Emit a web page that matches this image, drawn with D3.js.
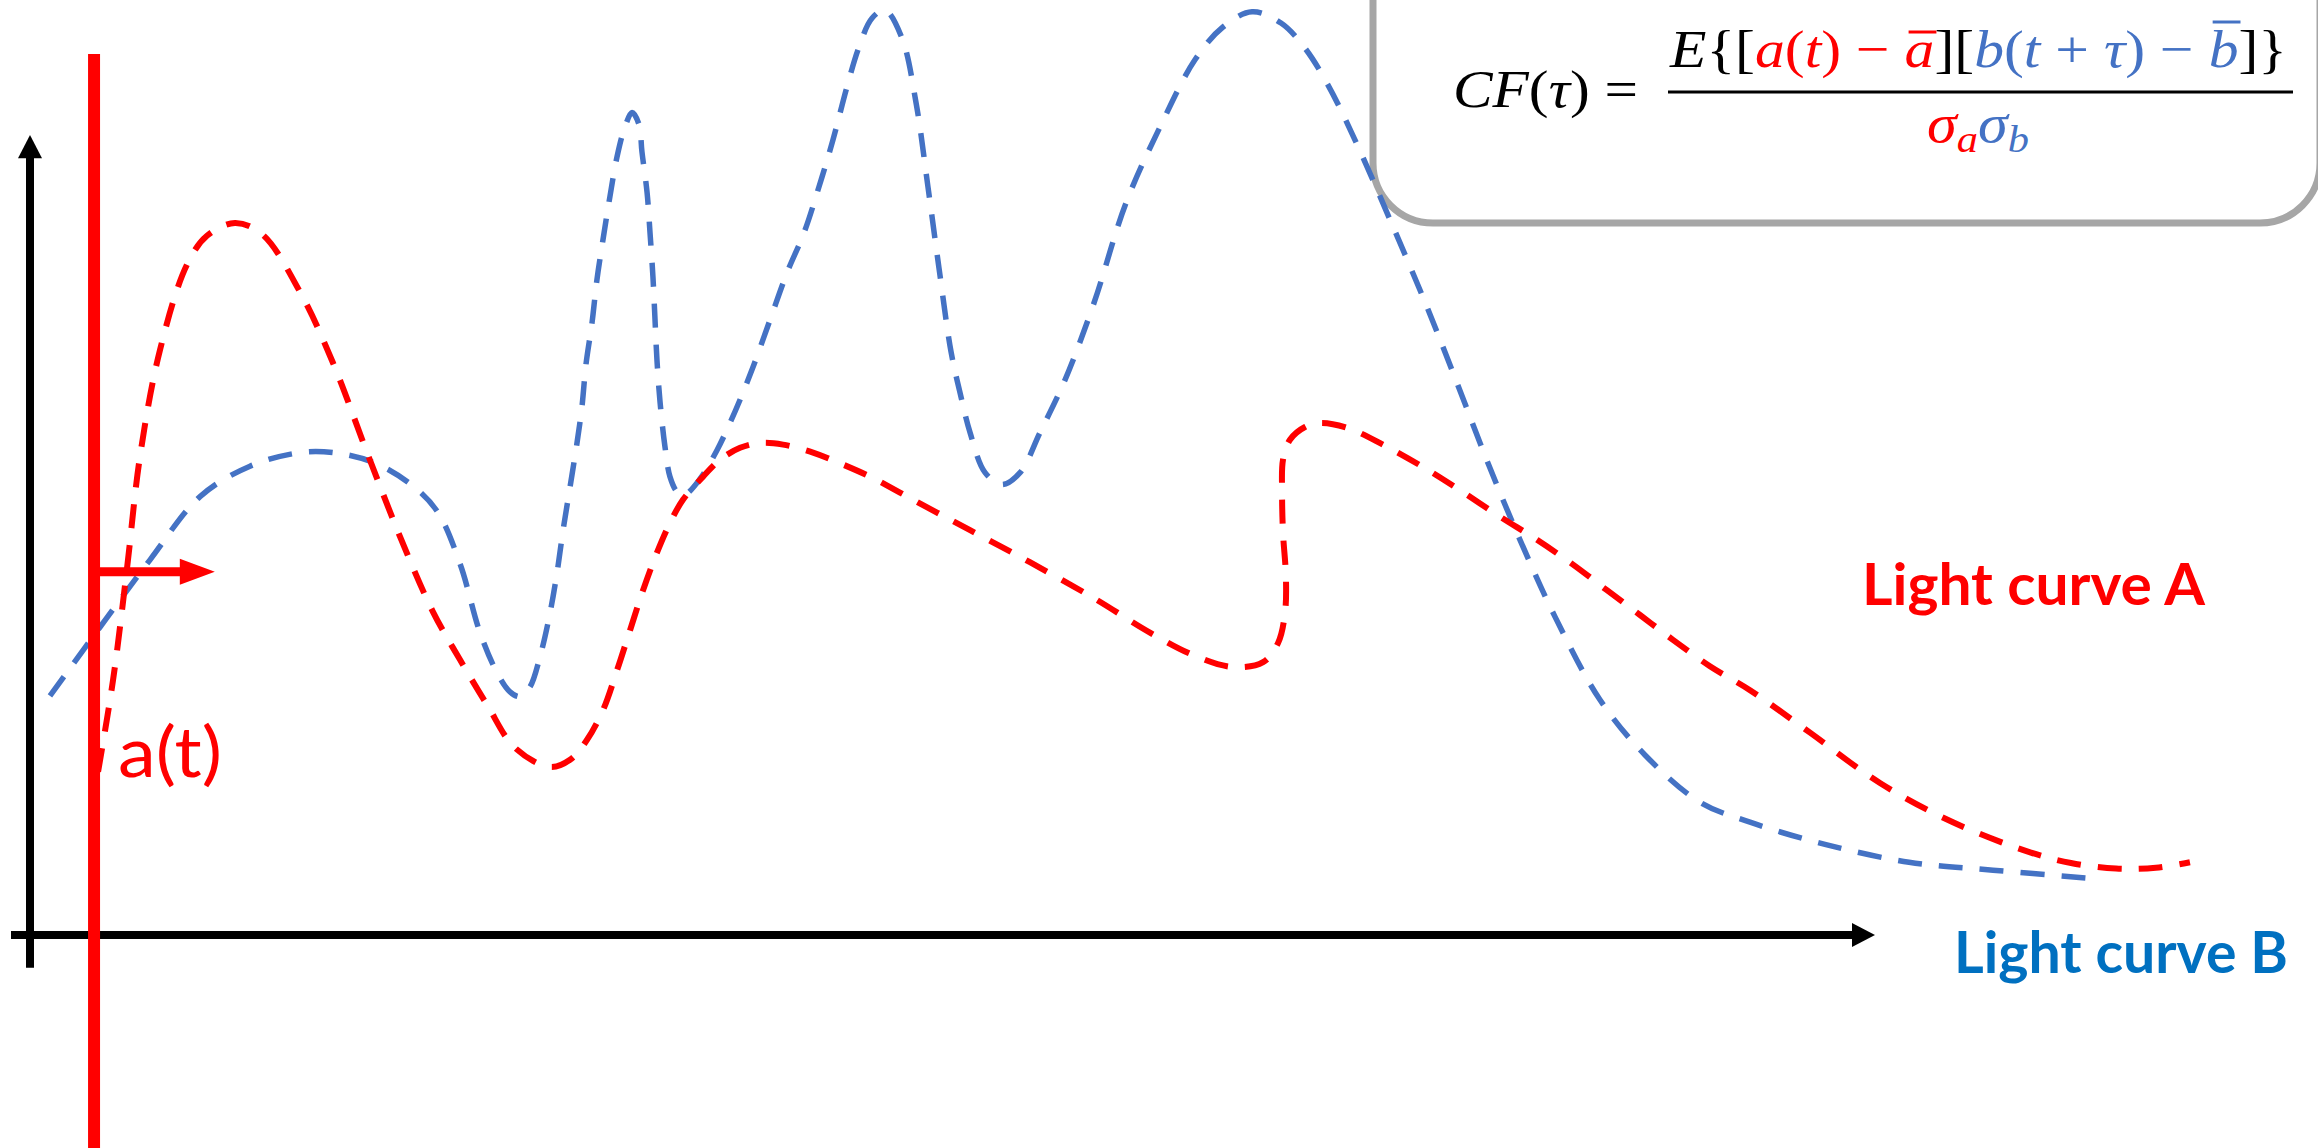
<!DOCTYPE html>
<html><head><meta charset="utf-8">
<script src="https://cdn.jsdelivr.net/npm/d3@7"></script>
<style>html,body{margin:0;padding:0;background:#fff;overflow:hidden}</style>
</head><body>
<svg id="chart" width="2318" height="1148"></svg>
<script>
// ---------- data (time units 0..100 along the x axis, flux units 0..100 up the y axis) ----------
const curveATime = [3.72,4.54,5.30,6.01,7.10,8.58,9.67,11.20,12.68,14.75,16.56,18.42,20.22,22.02,23.50,24.97,26.50,28.42,29.51,30.44,31.31,32.08,32.79,33.50,34.26,34.97,35.68,36.78,37.70,38.80,39.89,41.15,42.79,44.43,45.90,47.54,49.56,51.37,54.64,58.14,61.20,63.55,65.74,67.38,68.20,68.58,68.63,68.47,68.42,68.47,68.85,69.67,70.49,71.97,73.93,76.12,78.14,80.33,82.35,84.32,86.17,87.98,89.78,91.80,93.99,97.27,101.09,105.08,109.34,111.53,113.99,116.17,118.03];
const curveAFlux = [20.4,31.9,45.8,59.8,73.1,83.8,87.4,89.0,87.6,80.4,71.5,60.3,49.8,40.4,34.4,28.8,23.4,21.0,21.9,24.4,28.1,33.1,38.1,43.1,47.8,51.5,54.4,57.3,59.4,60.9,61.5,61.3,60.3,58.8,57.3,55.3,52.8,50.6,46.6,42.1,37.8,35.0,33.5,34.1,36.5,40.3,44.8,50.3,55.3,59.4,61.9,63.5,64.0,63.4,61.3,58.5,55.6,52.3,49.4,46.3,43.1,40.0,36.9,33.6,30.6,25.3,19.0,14.1,10.3,9.0,8.3,8.4,9.1];

const curveBTime = [1.09,3.83,6.56,9.29,12.02,14.75,16.56,18.74,20.77,22.24,23.50,24.59,25.52,26.23,26.78,27.32,27.87,28.42,28.80,29.13,29.51,29.89,30.16,30.38,30.71,30.98,31.31,31.69,32.08,32.51,32.90,33.28,33.44,33.72,33.88,34.04,34.15,34.26,34.43,34.70,34.97,35.36,35.74,36.61,37.54,38.25,38.80,39.51,40.44,41.37,42.30,43.11,43.88,44.64,45.30,46.01,46.72,47.65,48.42,49.07,49.67,50.33,50.82,51.37,52.19,53.11,54.10,55.19,56.56,58.14,59.89,61.75,63.66,65.19,66.78,68.36,69.62,70.87,72.40,74.32,76.34,77.98,79.67,81.42,83.33,85.79,88.25,91.26,93.99,98.14,102.68,107.27,112.51];
const curveBFlux = [29.9,38.5,46.9,54.8,58.6,60.3,60.3,59.1,56.4,53.0,46.4,37.8,32.8,30.4,29.8,31.0,34.8,40.3,45.3,50.6,56.0,61.5,66.0,71.3,76.5,81.9,86.9,92.3,97.3,101.0,102.8,101.3,97.9,92.8,87.8,82.3,77.1,71.9,66.6,61.0,57.3,55.4,55.0,57.0,60.6,64.0,66.9,71.0,76.9,82.8,87.8,93.5,99.4,106.0,111.0,114.6,115.6,112.1,104.0,93.5,83.4,72.9,67.8,62.8,57.8,56.3,57.8,62.8,69.4,79.0,91.5,101.0,109.4,113.5,115.4,114.0,111.0,106.5,99.4,89.4,78.5,69.0,59.0,49.4,39.8,29.4,22.5,16.6,14.1,11.3,9.1,8.1,7.1];

const seriesNames = ["Light curve A", "Light curve B"];
const sampleLabel = "a(t)";
const sampleTime = 3.5;      // time at which a(t) is sampled (red vertical line)
const lagEndTime = 10.1;     // end of the shift arrow (t + tau)
const lagFlux = 45.4;        // level of the shift arrow

// ---------- layout ----------
const svg = d3.select("#chart");
const x = d3.scaleLinear().domain([0, 100]).range([30, 1860]);
const y = d3.scaleLinear().domain([0, 100]).range([935, 135]);

const RED = "#FF0000", BLUE = "#4472C4", LBLUE = "#0070C0", GREY = "#A6A6A6";

// formula box (drawn first, curves pass over its edge)
svg.append("rect")
  .attr("x", 1373).attr("y", -120).attr("width", 947).attr("height", 343)
  .attr("rx", 60).attr("ry", 60)
  .attr("fill", "#fff").attr("stroke", GREY).attr("stroke-width", 7);

// axes
const axisG = svg.append("g");
axisG.append("line")
  .attr("x1", x(0)).attr("y1", y(-4.1)).attr("x2", x(0)).attr("y2", y(97.2))
  .attr("stroke", "#000").attr("stroke-width", 8);
axisG.append("path")
  .attr("d", `M${x(0)},${y(100)} L${x(0) - 12},${y(97.1)} L${x(0) + 12},${y(97.1)} Z`)
  .attr("fill", "#000");
const xEnd = x(100) + 15;
axisG.append("line")
  .attr("x1", 11).attr("y1", y(0)).attr("x2", xEnd - 20).attr("y2", y(0))
  .attr("stroke", "#000").attr("stroke-width", 8);
axisG.append("path")
  .attr("d", `M${xEnd},${y(0)} L${xEnd - 23},${y(0) - 12} L${xEnd - 23},${y(0) + 12} Z`)
  .attr("fill", "#000");

// curves
const line = d3.line()
  .x(d => x(d[0])).y(d => y(d[1]))
  .curve(d3.curveCatmullRom.alpha(0.5));

const dataA = curveATime.map((t, i) => [t, curveAFlux[i]]);
const dataB = curveBTime.map((t, i) => [t, curveBFlux[i]]);

svg.append("path").datum(dataB).attr("d", line)
  .attr("fill", "none").attr("stroke", BLUE).attr("stroke-width", 5.5)
  .attr("stroke-dasharray", "24 17");
svg.append("path").datum(dataA).attr("d", line)
  .attr("fill", "none").attr("stroke", RED).attr("stroke-width", 6)
  .attr("stroke-dasharray", "24 17");

// sample line and lag arrow
svg.append("line")
  .attr("x1", x(sampleTime)).attr("y1", 54).attr("x2", x(sampleTime)).attr("y2", 1148)
  .attr("stroke", RED).attr("stroke-width", 12);
const ay = y(lagFlux), ax0 = x(sampleTime), ax1 = x(lagEndTime);
svg.append("line")
  .attr("x1", ax0).attr("y1", ay).attr("x2", ax1 - 30).attr("y2", ay)
  .attr("stroke", RED).attr("stroke-width", 9);
svg.append("path")
  .attr("d", `M${ax1},${ay} L${ax1 - 35},${ay - 13} L${ax1 - 35},${ay + 13} Z`)
  .attr("fill", RED);

svg.append("text")
  .attr("x", 118).attr("y", 777)
  .attr("font-family", "Lato, 'Open Sans', sans-serif").attr("font-size", 70)
  .attr("fill", RED).attr("textLength", 104).attr("lengthAdjust", "spacingAndGlyphs")
  .text(sampleLabel);

// series labels
svg.append("text")
  .attr("x", 1862).attr("y", 605)
  .attr("font-family", "Lato, 'Open Sans', sans-serif").attr("font-weight", "bold").attr("font-size", 58)
  .attr("fill", RED).attr("textLength", 343).attr("lengthAdjust", "spacingAndGlyphs")
  .text(seriesNames[0]);
svg.append("text")
  .attr("x", 1954).attr("y", 973)
  .attr("font-family", "Lato, 'Open Sans', sans-serif").attr("font-weight", "bold").attr("font-size", 58)
  .attr("fill", LBLUE).attr("textLength", 334).attr("lengthAdjust", "spacingAndGlyphs")
  .text(seriesNames[1]);

// ---------- formula ----------
const MF = "'Liberation Serif', 'DejaVu Serif', serif";
function mathText(px, py, size, len, parts) {
  const t = svg.append("text").attr("x", px).attr("y", py)
    .attr("font-family", MF).attr("font-size", size)
    .attr("textLength", len).attr("lengthAdjust", "spacingAndGlyphs");
  const idx = [];
  let n = 0;
  parts.forEach(p => {
    const s = t.append("tspan").attr("fill", p.c || "#000")
      .attr("font-style", p.it ? "italic" : "normal").text(p.t);
    if (p.sz) s.attr("font-size", p.sz);
    if (p.dy) s.attr("dy", p.dy);
    if (p.bar) idx.push({i: n, c: p.c, lift: p.bar});
    n += p.t.length;
  });
  return {t, idx};
}

mathText(1453, 107, 53, 185, [
  {t: "CF", it: true}, {t: "("}, {t: "τ", it: true}, {t: ") ="}
]);

const num = mathText(1670, 67, 53, 617, [
  {t: "E", it: true}, {t: "{["},
  {t: "a", it: true, c: RED}, {t: "(", c: RED}, {t: "t", it: true, c: RED}, {t: ") − ", c: RED},
  {t: "a", it: true, c: RED, bar: 35},
  {t: "]["},
  {t: "b", it: true, c: BLUE}, {t: "(", c: BLUE}, {t: "t", it: true, c: BLUE}, {t: " + ", c: BLUE},
  {t: "τ", it: true, c: BLUE}, {t: ") − ", c: BLUE},
  {t: "b", it: true, c: BLUE, bar: 45},
  {t: "]}"}
]);
num.idx.forEach(b => {
  const e = num.t.node().getExtentOfChar(b.i);
  svg.append("line")
    .attr("x1", e.x + 4).attr("x2", e.x + e.width + 2)
    .attr("y1", 67 - b.lift).attr("y2", 67 - b.lift)
    .attr("stroke", b.c).attr("stroke-width", 3);
});

svg.append("line").attr("x1", 1668).attr("x2", 2293).attr("y1", 92).attr("y2", 92)
  .attr("stroke", "#000").attr("stroke-width", 3);

mathText(1927, 142, 54, 102, [
  {t: "σ", it: true, c: RED}, {t: "a", it: true, c: RED, sz: 38, dy: 10},
  {t: "σ", it: true, c: BLUE, dy: -10}, {t: "b", it: true, c: BLUE, sz: 38, dy: 10}
]);
</script>
</body></html>
